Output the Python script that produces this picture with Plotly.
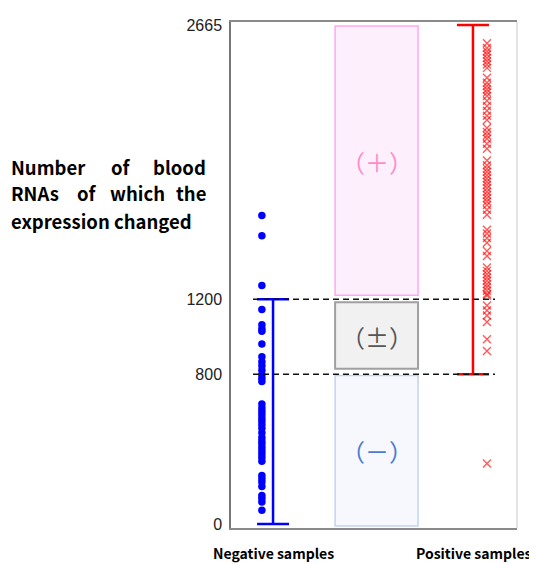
import plotly.graph_objects as go

# ---- data ----
neg_values = [1648, 1540, 1274, 1146, 1064, 1043, 1030, 962, 894, 867, 846, 821, 797,
              779, 761, 641, 620, 603, 585, 567, 550, 532, 511, 488, 462, 444, 427,
              409, 391, 374, 356, 335, 259, 242, 224, 201, 153, 136, 118, 74]
pos_values = [2568, 2542, 2524, 2507, 2489, 2471, 2454, 2436,
              2383, 2357, 2339, 2321, 2304, 2286, 2260, 2233, 2207, 2180, 2158,
              2115, 2093, 2075, 2057, 2031, 2004,
              1942, 1916, 1898, 1881, 1863, 1845, 1828, 1810, 1793, 1775, 1757, 1740,
              1722, 1704, 1678, 1652,
              1572, 1551, 1528, 1502, 1458, 1432,
              1370, 1352, 1334, 1317, 1299, 1281, 1264, 1246, 1228, 1220,
              1167, 1141, 1114, 1079, 987, 924, 324]
neg_range = [0, 1200]
pos_range = [800, 2665]
thresholds = [800, 1200]
y_ticks = [0, 800, 1200, 2665]
group_labels = ["Negative samples", "Positive samples"]
band_labels = ["（－）", "（±）", "（＋）"]
band_centers = [391, 1000, 1935]

# ---- layout constants (x in a 0..1 data frame) ----
X_NEG_PTS, X_NEG_BAR = 0.108, 0.147
X_POS_PTS, X_POS_BAR = 0.895, 0.846
BOX_X0, BOX_X1 = 0.364, 0.654
band_boxes = [(-10, 793), (830, 1184), (1222, 2660)]
band_fill = ["#f6f8fd", "#f1f1f1", "#fdf0fc"]
band_line = ["#c3d3ef", "#a0a0a0", "#ffa8f0"]
band_lw = [1.5, 2, 1.5]
band_font = ["#4a7bd0", "#555555", "#ff8cc8"]
RED_X = "rgba(255,0,0,0.65)"

fig = go.Figure()

# boxes
for (y0, y1), fc, lc, lw in zip(band_boxes, band_fill, band_line, band_lw):
    fig.add_shape(type="rect", xref="x", yref="y", x0=BOX_X0, x1=BOX_X1, y0=y0, y1=y1,
                  fillcolor=fc, line=dict(color=lc, width=lw), layer="below")
for lab, yc, col in zip(band_labels, band_centers, band_font):
    fig.add_annotation(x=(BOX_X0 + BOX_X1) / 2, y=yc, xref="x", yref="y", text=lab,
                       showarrow=False, font=dict(family="Noto Sans CJK JP", size=24, color=col))

# range bars
neg_mid = (neg_range[0] + neg_range[1]) / 2
pos_mid = (pos_range[0] + pos_range[1]) / 2
fig.add_trace(go.Scatter(x=[X_NEG_BAR], y=[neg_mid], mode="markers",
                         marker=dict(size=0.1, color="rgba(0,0,0,0)"),
                         error_y=dict(type="data", symmetric=True, array=[neg_mid - neg_range[0]],
                                      color="#0000ff", thickness=2.5, width=16),
                         showlegend=False, hoverinfo="skip"))
fig.add_trace(go.Scatter(x=[X_POS_BAR], y=[pos_mid], mode="markers",
                         marker=dict(size=0.1, color="rgba(0,0,0,0)"),
                         error_y=dict(type="data", symmetric=True, array=[pos_mid - pos_range[0]],
                                      color="#ff0000", thickness=2.5, width=16),
                         showlegend=False, hoverinfo="skip"))

# points
fig.add_trace(go.Scatter(x=[X_NEG_PTS] * len(neg_values), y=neg_values, mode="markers",
                         marker=dict(symbol="circle", size=7.5, color="#0000ff"),
                         showlegend=False))
fig.add_trace(go.Scatter(x=[X_POS_PTS] * len(pos_values), y=pos_values, mode="markers",
                         marker=dict(symbol="x-thin", size=8, color=RED_X,
                                     line=dict(color=RED_X, width=1.4)),
                         showlegend=False))

# dashed threshold lines
for t in thresholds:
    fig.add_shape(type="line", xref="x", yref="y", x0=0.077, x1=0.923, y0=t, y1=t,
                  line=dict(color="#111111", width=1.5, dash="6px,4px"), layer="above")

# right frame edge (lighter)
fig.add_shape(type="line", xref="paper", yref="paper", x0=1, x1=1, y0=0, y1=1,
              line=dict(color="#d0d0d0", width=1.2))

# group labels
for lab, xc in zip(group_labels, [X_NEG_BAR, 0.848]):
    fig.add_annotation(x=xc, y=0, xref="x", yref="paper", yanchor="top", yshift=-14,
                       text=lab, showarrow=False, borderpad=0,
                       font=dict(family="Noto Sans CJK JP", size=14, color="#000000", weight="bold"))

# left title (justified lines); pixel positions relative to the page
PAGE_OFF = 8  # default body margin of the page


def px_x(p):
    return (p - 231) / 286


def px_y(p):
    return (528 - p) / 511


TFONT = dict(family="Noto Sans CJK JP", size=18.5, color="#000000", weight="bold")
title_words = [
    ("Number", 10, "left", 163), ("of", 110, "left", 163), ("blood", 207, "right", 163),
    ("RNAs", 10, "left", 190), ("of", 76, "left", 190), ("which", 109, "left", 190),
    ("the", 207, "right", 190),
    ("expression changed", 10, "left", 218),
]
for w, xp, anc, yp in title_words:
    fig.add_annotation(x=px_x(xp), y=px_y(yp), xref="paper", yref="paper", xanchor=anc,
                       yanchor="middle", text=w, showarrow=False, font=TFONT, borderpad=0)

fig.update_layout(
    width=537 - PAGE_OFF, height=564 - PAGE_OFF,
    margin=dict(l=231 - PAGE_OFF, r=20, t=17 - PAGE_OFF, b=36),
    plot_bgcolor="white", paper_bgcolor="white",
    xaxis=dict(range=[0, 1], showgrid=False, zeroline=False, showticklabels=False,
               showline=True, linecolor="#8a8a8a", linewidth=2, mirror=True, ticks=""),
    yaxis=dict(range=[-21, 2681], showgrid=False, zeroline=False,
               tickvals=y_ticks, ticktext=[str(v) for v in y_ticks], ticks="",
               tickfont=dict(family="Liberation Sans", size=16, color="#222222"),
               showline=True, linecolor="#777777", linewidth=1.5, ticklabelstandoff=4),
)

fig.write_html("out.html")
